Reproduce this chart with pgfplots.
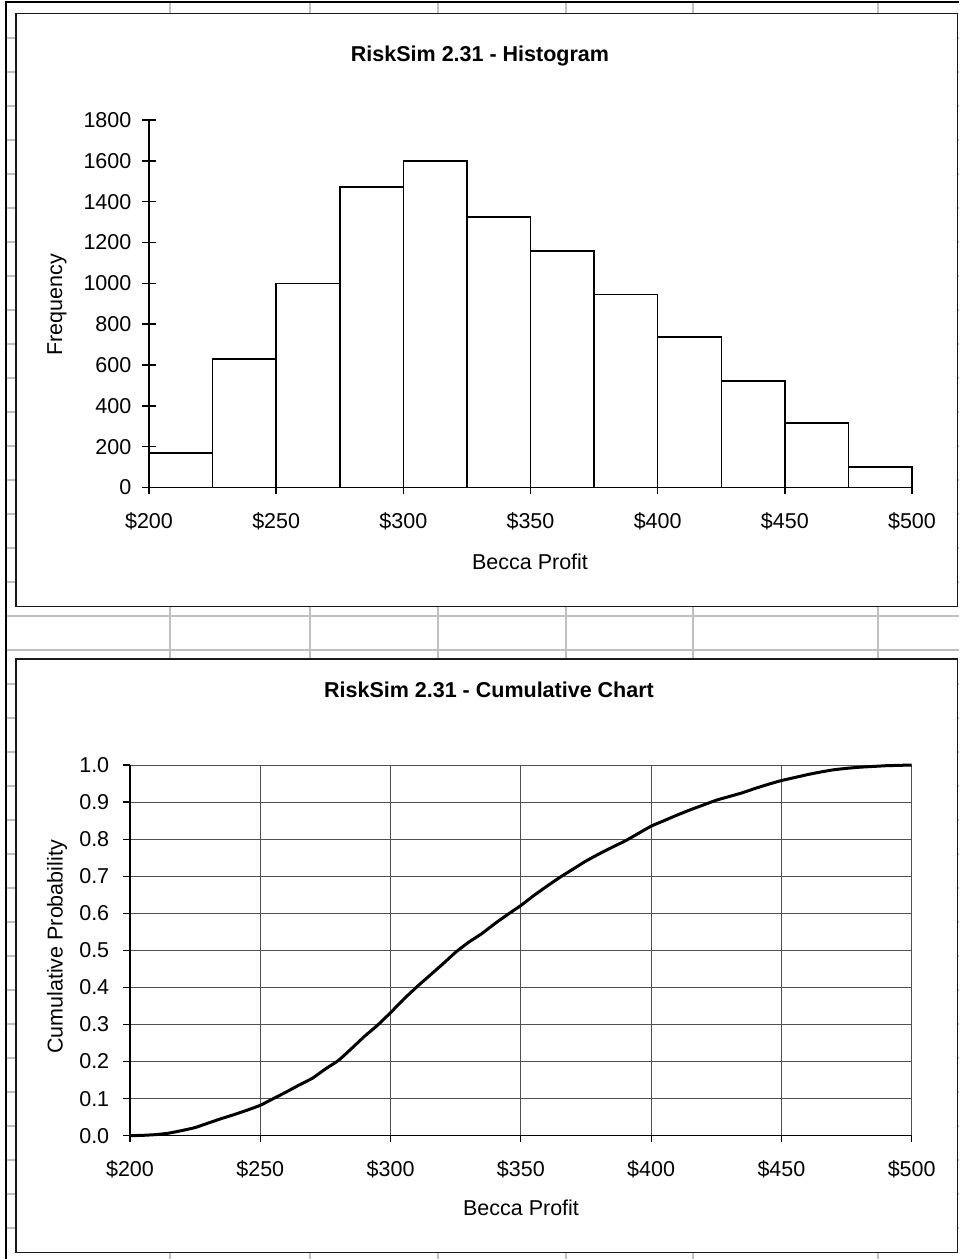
\documentclass[border=0pt]{standalone}
\usepackage{fontspec}
\setmainfont{Liberation Sans}
\usepackage{pgfplots}
\pgfplotsset{compat=1.18}
\definecolor{xlgrid}{HTML}{C0C0C0}
\definecolor{framec}{HTML}{1A1A1A}
\definecolor{gridc}{HTML}{505050}
\newcommand{\tf}{\fontsize{21.5}{25}\selectfont}
\newcommand{\ttl}{\bfseries\fontsize{21.5}{25}\selectfont}
\begin{document}
\begin{tikzpicture}[x=1pt,y=1pt]
\useasboundingbox (0,0) rectangle (959,1259);
\fill[white] (0,0) rectangle (959,1259);
% Excel sheet grid
\foreach \k in {0,...,36} {
  \draw[xlgrid, line width=2pt] (6,{1259-(38.3+34*\k)}) -- (959,{1259-(38.3+34*\k)});
}
\foreach \c in {170,310,438,566,693,878} {
  \draw[xlgrid, line width=2pt] (\c,0) -- (\c,1256);
}
% outer frame lines
\draw[black, line width=2pt] (6,0) -- (6,1256.5) -- (959,1256.5);
% chart areas
\filldraw[fill=white, draw=framec, line width=1.5pt] (16,{1259-13.3}) rectangle (957.7,{1259-606.7});
\filldraw[fill=white, draw=framec, line width=1.5pt] (16,{1259-659}) rectangle (957.7,{1259-1252.7});

% ---------- Histogram ----------
\begin{axis}[
  at={(149pt,771.5pt)}, anchor=south west, scale only axis,
  width=763pt, height=367.5pt,
  xmin=200, xmax=500, ymin=0, ymax=1800,
  axis lines=left, axis line style={-, black, line width=1.5pt},
  xtick={200,250,...,500},
  xticklabels={\$200,\$250,\$300,\$350,\$400,\$450,\$500},
  ytick={0,200,...,1800},
  xtick align=outside, ytick align=center,
  xtick style={/pgfplots/major tick length=7pt, black, line width=1.5pt},
  ytick style={/pgfplots/major tick length=14pt, black, line width=1.5pt},
  tick label style={font=\tf},
  xticklabel style={yshift=-17pt},
  yticklabel style={xshift=-12pt},
  /pgf/number format/assume math mode=true,
  /pgf/number format/1000 sep={},
  clip=false,
]
\addplot[ybar interval, fill=white, draw=black, line width=1.5pt] coordinates {
(200,170) (225,630) (250,1000) (275,1472) (300,1600) (325,1325)
(350,1159) (375,945) (400,737) (425,522) (450,316) (475,100) (500,100)
};
\end{axis}
\node[font=\ttl] at (480,{1259-56}) {RiskSim 2.31 - Histogram};
\node[font=\tf, rotate=90] at (57,{1259-305}) {Frequency};
\node[font=\tf] at (530,{1259-562}) {Becca Profit};

% ---------- Cumulative ----------
\begin{axis}[
  at={(130pt,123.3pt)}, anchor=south west, scale only axis,
  width=781.7pt, height=370.7pt,
  xmin=200, xmax=500, ymin=0, ymax=1,
  axis lines=left, axis line style={-, black, line width=1.5pt},
  grid=major, major grid style={gridc, line width=0.9pt},
  xtick={200,250,...,500},
  xticklabels={\$200,\$250,\$300,\$350,\$400,\$450,\$500},
  ytick={0,0.1,...,1.0},
  yticklabel style={/pgf/number format/fixed, /pgf/number format/fixed zerofill, /pgf/number format/precision=1, xshift=-13pt},
  xticklabel style={yshift=-17pt},
  tick align=outside,
  xtick style={/pgfplots/major tick length=6pt, black, line width=1.2pt},
  ytick style={/pgfplots/major tick length=7pt, black, line width=1.2pt},
  tick label style={font=\tf},
  /pgf/number format/assume math mode=true,
  clip=false,
]
\addplot[black, line width=3pt, smooth, tension=0.3] coordinates {
(200,0.000) (205,0.001) (210,0.003) (215,0.007) (220,0.014) (225,0.022)
(230,0.034) (235,0.046) (240,0.057) (245,0.069) (250,0.082) (255,0.100)
(260,0.118) (265,0.137) (270,0.155) (275,0.180) (280,0.203) (285,0.235)
(290,0.268) (295,0.298) (300,0.332) (305,0.368) (310,0.401) (315,0.432)
(320,0.463) (325,0.495) (330,0.522) (335,0.545) (340,0.572) (345,0.597)
(350,0.621) (355,0.648) (360,0.673) (365,0.697) (370,0.719) (375,0.741)
(380,0.760) (385,0.778) (390,0.795) (395,0.815) (400,0.835) (405,0.850)
(410,0.865) (415,0.879) (420,0.892) (425,0.905) (430,0.915) (435,0.925)
(440,0.937) (445,0.948) (450,0.958) (455,0.966) (460,0.974) (465,0.981)
(470,0.987) (475,0.991) (480,0.994) (485,0.996) (490,0.998) (495,0.999)
(500,1.000)
};
\end{axis}
\node[font=\ttl] at (489,{1259-690}) {RiskSim 2.31 - Cumulative Chart};
\node[font=\tf, rotate=90] at (57,{1259-947}) {Cumulative Probability};
\node[font=\tf] at (521,{1259-1208}) {Becca Profit};
\end{tikzpicture}
\end{document}
